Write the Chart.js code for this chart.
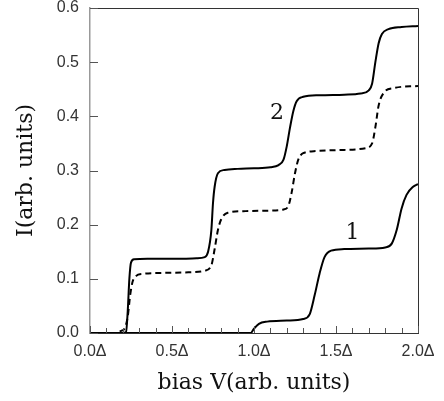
<!DOCTYPE html>
<html>
<head>
<meta charset="utf-8">
<script src="https://cdn.jsdelivr.net/npm/chart.js@4.4.0/dist/chart.umd.min.js"></script>
<style>
  html, body { margin: 0; padding: 0; background: #fff; }
  #wrap { width: 444px; height: 401px; }
</style>
</head>
<body>
<div id="wrap"><canvas id="ivChart" width="444" height="401"></canvas></div>
<script>
// curve "2", solid
const biasSolid2 = [0.00, 0.20, 0.22, 0.23, 0.24, 0.25, 0.27, 0.35, 0.50, 0.65, 0.70, 0.72, 0.74, 0.75, 0.76, 0.78, 0.82, 0.90, 1.00, 1.10, 1.15, 1.18, 1.20, 1.22, 1.24, 1.26, 1.30, 1.40, 1.55, 1.65, 1.70, 1.72, 1.74, 1.76, 1.78, 1.82, 1.90, 2.00];
const currSolid2 = [0.000, 0.000, 0.002, 0.040, 0.100, 0.130, 0.136, 0.137, 0.137, 0.138, 0.140, 0.150, 0.190, 0.240, 0.270, 0.295, 0.301, 0.303, 0.304, 0.306, 0.310, 0.320, 0.345, 0.380, 0.410, 0.428, 0.436, 0.439, 0.440, 0.442, 0.448, 0.460, 0.500, 0.535, 0.552, 0.561, 0.565, 0.567];

// dashed curve
const biasDashed = [0.00, 0.16, 0.19, 0.21, 0.23, 0.245, 0.26, 0.28, 0.32, 0.45, 0.60, 0.70, 0.74, 0.76, 0.78, 0.80, 0.84, 0.95, 1.10, 1.18, 1.21, 1.23, 1.25, 1.27, 1.30, 1.38, 1.55, 1.68, 1.72, 1.74, 1.76, 1.79, 1.85, 2.00];
const currDashed = [0.000, 0.000, 0.004, 0.008, 0.030, 0.070, 0.095, 0.105, 0.109, 0.111, 0.112, 0.115, 0.125, 0.155, 0.190, 0.210, 0.222, 0.225, 0.226, 0.228, 0.235, 0.260, 0.295, 0.320, 0.332, 0.336, 0.338, 0.341, 0.350, 0.380, 0.420, 0.443, 0.452, 0.456];

// curve "1", solid
const biasSolid1 = [0.00, 0.98, 1.00, 1.03, 1.08, 1.20, 1.30, 1.34, 1.37, 1.40, 1.43, 1.47, 1.55, 1.70, 1.80, 1.84, 1.87, 1.90, 1.93, 1.97, 2.00];
const currSolid1 = [0.000, 0.000, 0.008, 0.017, 0.021, 0.023, 0.026, 0.035, 0.070, 0.110, 0.140, 0.152, 0.155, 0.156, 0.158, 0.165, 0.190, 0.230, 0.255, 0.270, 0.275];

// curve labels: text, x, y (data units)
const curveLabels = ["2", "1"];
const labelX = [1.14, 1.60];
const labelY = [0.406, 0.185];

const xTicks = [0.0, 0.5, 1.0, 1.5, 2.0];
const yTicks = [0.0, 0.1, 0.2, 0.3, 0.4, 0.5, 0.6];

function pts(xs, ys) {
  return xs.map((x, i) => ({ x: x, y: ys[i] }));
}

// inward ticks, frame and curve numbers
const framePlugin = {
  id: 'frame',
  afterDatasetsDraw(chart) {
    const ctx = chart.ctx;
    const a = chart.chartArea;
    const xs = chart.scales.x;
    const ys = chart.scales.y;
    ctx.save();
    ctx.lineWidth = 1;
    ctx.strokeStyle = '#333';
    ctx.beginPath();
    ctx.moveTo(a.left, a.top + 0.5);
    ctx.lineTo(a.right + 0.5, a.top + 0.5);
    ctx.lineTo(a.right + 0.5, a.bottom);
    ctx.stroke();

    ctx.strokeStyle = '#555';
    for (let i = 0; i <= 20; i++) {
      const v = i / 10;
      const px = Math.round(xs.getPixelForValue(v)) + 0.5;
      const len = (i % 5 === 0) ? 7 : 5;
      ctx.beginPath();
      ctx.moveTo(px, a.bottom);
      ctx.lineTo(px, a.bottom - len);
      ctx.stroke();
    }
    yTicks.forEach(v => {
      const py = Math.round(ys.getPixelForValue(v)) + 0.5;
      ctx.beginPath();
      ctx.moveTo(a.left, py);
      ctx.lineTo(a.left + 8, py);
      ctx.stroke();
    });

    ctx.fillStyle = '#111';
    ctx.font = '22px "DejaVu Serif"';
    ctx.textAlign = 'center';
    ctx.textBaseline = 'middle';
    curveLabels.forEach((t, i) => {
      ctx.fillText(t, xs.getPixelForValue(labelX[i]), ys.getPixelForValue(labelY[i]));
    });
    ctx.restore();
  }
};

const ctx = document.getElementById('ivChart').getContext('2d');
new Chart(ctx, {
  type: 'line',
  data: {
    datasets: [
      {
        data: pts(biasSolid2, currSolid2),
        borderColor: '#000',
        borderWidth: 2,
        pointRadius: 0,
        cubicInterpolationMode: 'monotone'
      },
      {
        data: pts(biasDashed, currDashed),
        borderColor: '#000',
        borderWidth: 2,
        borderDash: [6, 4],
        pointRadius: 0,
        cubicInterpolationMode: 'monotone'
      },
      {
        data: pts(biasSolid1, currSolid1),
        borderColor: '#000',
        borderWidth: 2,
        pointRadius: 0,
        cubicInterpolationMode: 'monotone'
      }
    ]
  },
  options: {
    responsive: false,
    animation: false,
    layout: { padding: { top: 8, right: 26, left: 0, bottom: 0 } },
    plugins: { legend: { display: false }, tooltip: { enabled: false } },
    scales: {
      x: {
        type: 'linear',
        min: 0, max: 2,
        afterBuildTicks: s => { s.ticks = xTicks.map(v => ({ value: v })); },
        afterFit: s => { s.height = 68; s.paddingLeft = 0; s.paddingRight = 0; },
        grid: { display: false, drawTicks: false },
        border: { display: true, color: '#333', width: 1 },
        ticks: {
          padding: 9,
          maxRotation: 0,
          color: '#333',
          font: { family: 'Liberation Sans', size: 16 },
          callback: v => v.toFixed(1) + 'Δ'
        },
        title: {
          display: true,
          text: 'bias V(arb. units)',
          color: '#111',
          font: { family: 'DejaVu Serif', size: 22 },
          padding: { top: 2, bottom: 5 }
        }
      },
      y: {
        type: 'linear',
        min: 0, max: 0.6,
        afterBuildTicks: s => { s.ticks = yTicks.map(v => ({ value: v })); },
        afterFit: s => { s.width = 90; s.paddingTop = 0; s.paddingBottom = 0; },
        grid: { display: false, drawTicks: false },
        border: { display: true, color: '#999', width: 1.5 },
        ticks: {
          padding: 11,
          color: '#333',
          font: { family: 'Liberation Sans', size: 16 },
          callback: v => v.toFixed(1)
        },
        title: {
          display: true,
          text: 'I(arb. units)',
          color: '#111',
          font: { family: 'DejaVu Serif', size: 22 },
          padding: { top: 13, bottom: 0 }
        }
      }
    }
  },
  plugins: [framePlugin]
});
</script>
</body>
</html>
